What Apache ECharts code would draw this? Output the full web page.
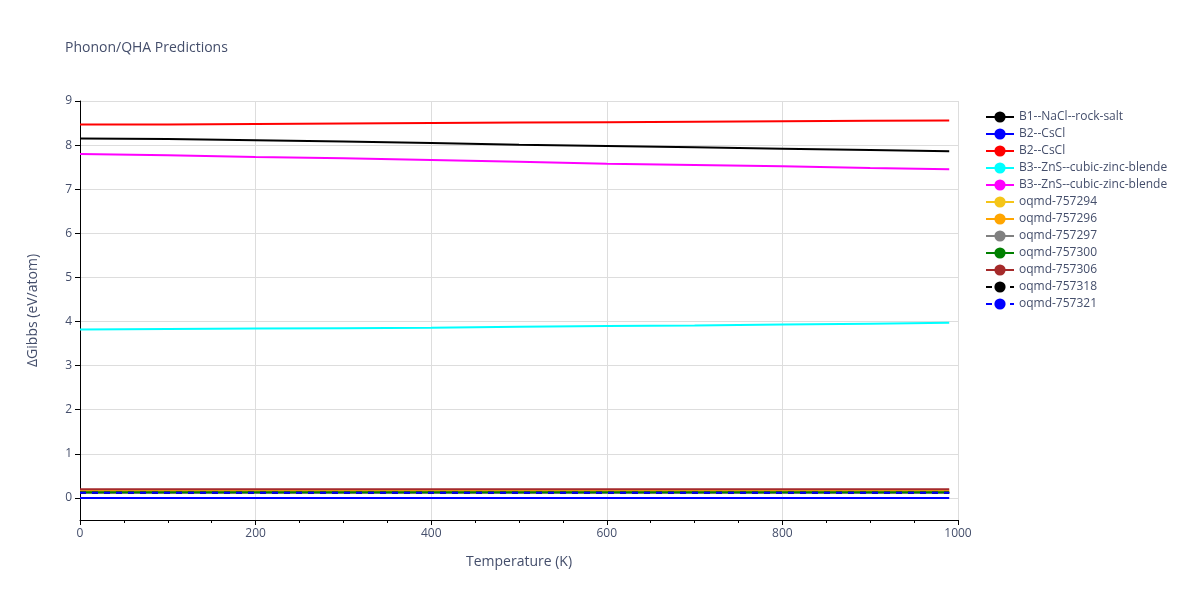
<!DOCTYPE html><html><head><meta charset="utf-8"><script src="https://cdn.jsdelivr.net/npm/echarts@6/dist/echarts.min.js"></script></head><body style="margin:0"><div id="c" style="width:1200px;height:600px"></div><script>
const temps=[0,100,200,300,400,500,600,700,800,900,990];
const names=['B1--NaCl--rock-salt','B2--CsCl','B2--CsCl\u200b','B3--ZnS--cubic-zinc-blende','B3--ZnS--cubic-zinc-blende\u200b','oqmd-757294','oqmd-757296','oqmd-757297','oqmd-757300','oqmd-757306','oqmd-757318','oqmd-757321'];
const colors=['#000000','#0000ff','#ff0000','#00ffff','#ff00ff','#f5c518','#ffa500','#808080','#008000','#a52a2a','#000000','#0000ff'];
const dashed=[false,false,false,false,false,false,false,false,false,false,true,true];
const values=[
[8.15,8.14,8.11,8.08,8.05,8.01,7.98,7.95,7.92,7.89,7.86],
[0,0,0,0,0,0,0,0,0,0,0],
[8.47,8.47,8.48,8.49,8.50,8.51,8.52,8.53,8.54,8.55,8.56],
[3.82,3.83,3.84,3.85,3.86,3.88,3.90,3.91,3.93,3.95,3.97],
[7.80,7.77,7.73,7.70,7.66,7.62,7.58,7.55,7.52,7.48,7.45],
[0.17,0.17,0.17,0.17,0.17,0.17,0.17,0.17,0.17,0.17,0.17],
[0.15,0.15,0.15,0.15,0.15,0.15,0.15,0.15,0.15,0.15,0.15],
[0.11,0.11,0.11,0.11,0.11,0.11,0.11,0.11,0.11,0.11,0.11],
[0.13,0.13,0.13,0.13,0.13,0.13,0.13,0.13,0.13,0.13,0.13],
[0.20,0.20,0.20,0.20,0.20,0.20,0.20,0.20,0.20,0.20,0.20],
[0.12,0.12,0.12,0.12,0.12,0.12,0.12,0.12,0.12,0.12,0.12],
[0.12,0.12,0.12,0.12,0.12,0.12,0.12,0.12,0.12,0.12,0.12]];
const yTicks=[0,1,2,3,4,5,6,7,8,9];
const ch=echarts.init(document.getElementById('c'));
const txt='#444e6b';
ch.setOption({animation:false,textStyle:{fontFamily:'Open Sans, sans-serif'},
title:{text:'Phonon/QHA Predictions',left:60,top:36,textStyle:{fontSize:14,fontWeight:'normal',color:txt}},
grid:{left:80,right:242,top:101,bottom:80},
legend:{orient:'vertical',left:980,top:106,itemWidth:28,itemHeight:14,itemGap:5,textStyle:{fontSize:12,color:txt},
 data:names},
xAxis:{type:'value',min:0,max:1000,interval:200,name:'Temperature (K)',nameLocation:'middle',nameGap:35,nameTextStyle:{fontSize:14,color:txt},
 axisLine:{onZero:false,lineStyle:{color:'#000'}},axisTick:{show:true,length:5},minorTick:{show:true,splitNumber:4,length:3},axisLabel:{color:txt,formatter:v=>String(v)},
 splitLine:{lineStyle:{color:'#ddd'}}},
yAxis:{type:'value',min:-0.5,max:9,name:'ΔGibbs (eV/atom)',nameLocation:'middle',nameGap:40,nameTextStyle:{fontSize:14,color:txt},
 axisLine:{show:true,onZero:false,lineStyle:{color:'#000'}},axisTick:{show:true,length:5,customValues:yTicks},axisLabel:{color:txt,customValues:yTicks},
 splitLine:{lineStyle:{color:'#ddd'}}},
series:names.map((n,i)=>({name:n,type:'line',showSymbol:false,symbol:'none',color:colors[i],lineStyle:{width:2,type:dashed[i]?[6,6]:'solid'},
 data:temps.map((t,j)=>[t,values[i][j]])}))
});
</script></body></html>
